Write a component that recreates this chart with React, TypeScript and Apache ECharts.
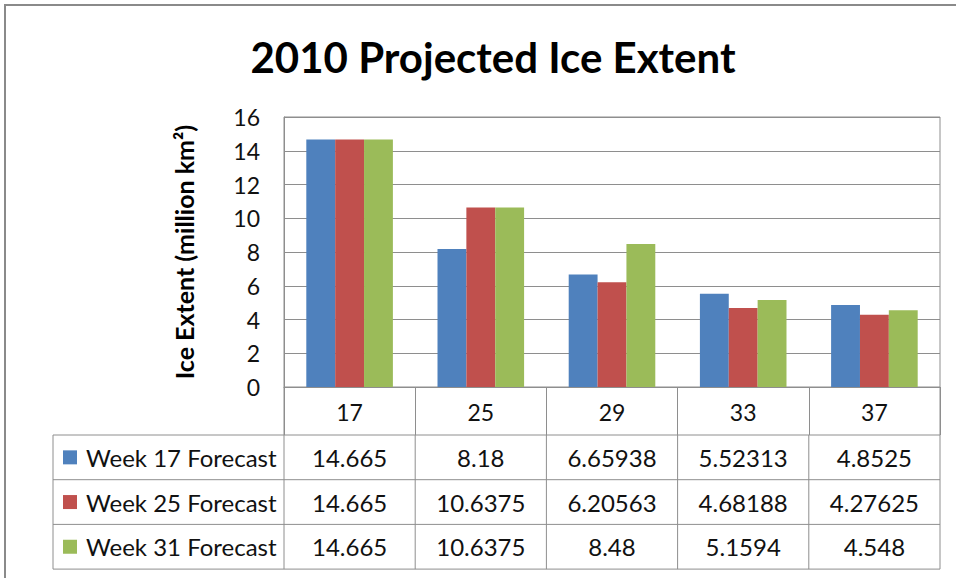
import React, { useEffect, useRef } from "react";
import * as echarts from "echarts";

const categories = ["17", "25", "29", "33", "37"];
const seriesNames = ["Week 17 Forecast", "Week 25 Forecast", "Week 31 Forecast"];
const week17 = [14.665, 8.18, 6.65938, 5.52313, 4.8525];
const week25 = [14.665, 10.6375, 6.20563, 4.68188, 4.27625];
const week31 = [14.665, 10.6375, 8.48, 5.1594, 4.548];
const seriesColors = ["#4F81BD", "#C0504D", "#9BBB59"];
const yTicks = { min: 0, max: 16, interval: 2 };

const FONT = "Lato, 'Noto Sans', sans-serif";
const LINE = "#8E8E8E";

export default function App() {
  const ref = useRef<HTMLDivElement>(null);
  useEffect(() => {
    if (!ref.current) return;
    const chart = echarts.init(ref.current, null, { renderer: "svg" });
    const allSeries = [week17, week25, week31];
    const gridLeft = 284;
    const gridTop = 117;
    const gridW = 656;
    const gridH = 270;
    const option: any = {
      animation: false,
      backgroundColor: "#fff",
      textStyle: { fontFamily: FONT },
      title: {
        text: "2010 Projected Ice Extent",
        left: 488,
        top: 31,
        textAlign: "center",
        textStyle: { fontFamily: FONT, fontSize: 42, fontWeight: "bold", color: "#000" },
      },
      grid: {
        left: gridLeft,
        top: gridTop,
        width: gridW,
        height: gridH,
        show: true,
        borderColor: LINE,
        borderWidth: 1,
        backgroundColor: "transparent",
      },
      xAxis: {
        type: "category",
        data: categories,
        axisLine: { lineStyle: { color: LINE } },
        axisTick: { show: true, length: 48, lineStyle: { color: LINE } },
        axisLabel: { fontSize: 23, color: "#111", margin: 13, fontFamily: FONT },
      },
      yAxis: {
        type: "value",
        min: yTicks.min,
        max: yTicks.max,
        interval: yTicks.interval,
        name: "Ice Extent (million km²)",
        nameLocation: "middle",
        nameGap: 88,
        nameTextStyle: { fontSize: 25, fontWeight: "bold", color: "#000", fontFamily: FONT },
        axisLine: { show: true, lineStyle: { color: LINE } },
        axisTick: { show: false },
        axisLabel: { fontSize: 23, color: "#111", margin: 24, fontFamily: FONT },
        splitLine: { lineStyle: { color: LINE } },
      },
      series: allSeries.map((d, i) => ({
        type: "bar",
        name: seriesNames[i],
        data: d,
        barGap: "0%",
        barCategoryGap: "34%",
        itemStyle: { color: seriesColors[i] },
      })),
    };
    chart.setOption(option);

    // data table below the axis
    const xCenters = categories.map((_, i) => chart.convertToPixel({ xAxisIndex: 0 }, i) as number);
    const y0 = chart.convertToPixel({ yAxisIndex: 0 }, 0) as number;
    const headerH = 48;
    const rowH = 44.7;
    const tableLeft = 53;
    const right = gridLeft + gridW;
    const rowTop = (r: number) => y0 + headerH + r * rowH;
    const g: any[] = [];
    // outer chart border
    g.push({
      type: "rect",
      shape: { x: 5, y: 5, width: 1000, height: 700 },
      style: { fill: "none", stroke: "#8A8A8A", lineWidth: 2 },
      silent: true,
    });
    // vertical lines
    g.push({ type: "line", shape: { x1: gridLeft, y1: y0, x2: gridLeft, y2: rowTop(3) }, style: { stroke: LINE, lineWidth: 1 } });
    g.push({ type: "line", shape: { x1: right, y1: y0, x2: right, y2: rowTop(3) }, style: { stroke: LINE, lineWidth: 1 } });
    g.push({ type: "line", shape: { x1: tableLeft, y1: rowTop(0), x2: tableLeft, y2: rowTop(3) }, style: { stroke: LINE, lineWidth: 1 } });
    const bandW = gridW / categories.length;
    for (let c = 1; c < categories.length; c++) {
      const x = gridLeft + c * bandW;
      g.push({ type: "line", shape: { x1: x, y1: rowTop(0), x2: x, y2: rowTop(3) }, style: { stroke: LINE, lineWidth: 1 } });
    }
    for (let r = 0; r <= 3; r++) {
      g.push({ type: "line", shape: { x1: tableLeft, y1: rowTop(r), x2: right, y2: rowTop(r) }, style: { stroke: LINE, lineWidth: 1 } });
    }
    allSeries.forEach((d, r) => {
      const cy = rowTop(r) + rowH / 2;
      g.push({ type: "rect", shape: { x: 63, y: cy - 7, width: 14, height: 14 }, style: { fill: seriesColors[r] } });
      g.push({
        type: "text",
        x: 86,
        y: cy,
        style: { text: seriesNames[r], fontSize: 24, fontFamily: FONT, fill: "#111", textVerticalAlign: "middle", verticalAlign: "middle" },
      });
      d.forEach((v, c) => {
        g.push({
          type: "text",
          x: xCenters[c],
          y: cy,
          style: {
            text: String(v),
            fontSize: 24,
            fontFamily: FONT,
            fill: "#111",
            align: "center",
            verticalAlign: "middle",
            textAlign: "center",
            textVerticalAlign: "middle",
          },
        });
      });
    });
    chart.setOption({ graphic: g });
    return () => chart.dispose();
  }, []);
  return (
    <div
      ref={ref}
      style={{ position: "fixed", left: 0, top: 0, width: 956, height: 578, background: "#fff" }}
    />
  );
}
